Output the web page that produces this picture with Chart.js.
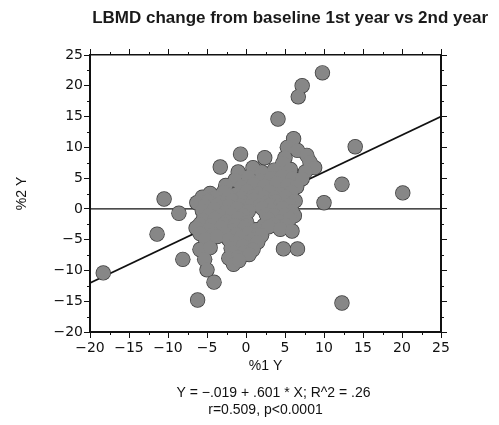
<!DOCTYPE html>
<html>
<head>
<meta charset="utf-8">
<title>LBMD change from baseline 1st year vs 2nd year</title>
<script src="https://cdn.jsdelivr.net/npm/chart.js@4.4.1/dist/chart.umd.min.js"></script>
<style>
  html, body { margin: 0; padding: 0; background: #fff; }
  canvas { display: block; }
</style>
</head>
<body>
<canvas id="lbmdChart" width="499" height="425"></canvas>
<script>
// % change in LBMD from baseline: 1st year (x) against 2nd year (y), one entry per subject
const firstYear = [
  9.8, 7.2, 6.7, 4.1, 14.0, -0.7, 2.4, -3.3, 12.3, 20.1, 10.0, 12.3,
  -10.5, -8.6, -11.4, -18.3, -6.2, -8.1,
  6.1, 5.3, 6.6, 5.0, 7.8, 8.2, 8.8, 4.7, 7.6, 0.9, 5.7, 3.6, 2.0, -1.0,
  -1.4, 0.3, 1.8, 3.2, 4.6, 6.0, 7.2,
  -2.6, -0.6, 1.0, 2.4, 3.9, 5.3, 6.5,
  -4.6, -2.9, -1.4, 0.1, 1.6, 3.0, 4.4, 5.8,
  -5.6, -3.9, -2.2, -0.6, 0.9, 2.3, 3.7, 5.1,
  -6.3, -4.9, -3.3, -1.8, -0.4, 1.0, 2.4, 3.8, 5.2, 6.3,
  -5.3, -3.7, -2.2, -0.7, 0.7, 1.8, 3.0, 4.3, 5.6,
  -5.6, -4.1, -2.6, -1.1, 0.3, 2.1, 3.4, 4.7, 5.9,
  -4.8, -3.3, -1.8, -0.4, 2.6, 3.6, 5.0, 6.2,
  -5.5, -4.0, -2.5, -1.0, 0.1, 2.9, 4.3, 5.6,
  -5.9, -4.4, -2.9, -1.4, 0.0, 2.3, 3.6, 5.1,
  -6.4, -4.8, -3.2, -1.7, -0.2, 1.3, 2.9, 4.4, 5.9,
  -5.9, -4.2, -2.7, -1.2, 0.3, 1.6,
  -5.2, -3.7, -2.2, -0.7, 0.8, 2.0,
  -1.3, 0.1, 1.5,
  -5.9, -4.6, -5.3, -5.0, -4.1,
  -1.9, -0.4, 0.9, -1.6, -0.2, -2.2, -1.0, 0.4, -1.6, -0.9,
  4.8, 6.6
];
const secondYear = [
  22.1, 20.0, 18.2, 14.6, 10.1, 8.9, 8.3, 6.8, 4.0, 2.6, 1.0, -15.3,
  1.6, -0.7, -4.1, -10.4, -14.8, -8.2,
  11.4, 10.0, 9.5, 8.3, 8.7, 7.6, 6.7, 7.4, 6.0, 6.7, 6.4, 6.3, 6.0, 6.0,
  4.7, 5.2, 4.6, 5.0, 5.3, 5.0, 4.9,
  3.8, 3.6, 4.0, 3.7, 4.2, 3.9, 3.6,
  2.5, 2.7, 2.3, 2.9, 2.5, 2.8, 2.4, 2.7,
  1.9, 1.9, 2.0, 1.8, 2.0, 1.9, 1.8, 2.0,
  1.0, 1.3, 1.0, 1.4, 1.1, 1.5, 1.0, 1.3, 1.0, 1.3,
  0.5, 0.6, 0.5, 0.6, 0.5, 0.6, 0.6, 0.5, 0.6,
  -0.3, 0.0, -0.5, 0.1, -0.4, 0.1, -0.3, 0.1, -0.4,
  -1.0, -1.1, -0.9, -1.0, -0.9, -1.0, -1.0, -1.1,
  -1.8, -1.6, -2.0, -1.5, -2.2, -1.7, -2.0, -1.6,
  -2.5, -2.6, -2.5, -2.6, -2.7, -2.7, -2.5, -2.6,
  -3.1, -3.4, -3.0, -3.5, -3.0, -3.4, -2.9, -3.3, -3.6,
  -4.0, -4.1, -4.0, -4.1, -4.0, -4.1,
  -4.9, -4.5, -5.0, -4.7, -5.0, -4.3,
  -5.6, -5.5, -5.4,
  -6.6, -6.3, -8.2, -9.9, -11.9,
  -6.4, -6.0, -6.6, -7.1, -7.0, -8.0, -7.8, -7.4, -9.0, -8.4,
  -6.5, -6.5
];

const axisRange = [-20, 25];
const majorStep = 5;
const minorStep = 2.5;

// regression Y = a + b * X
const fitIntercept = -0.019;
const fitSlope = 0.601;
const rSquared = 0.26;
const pearsonR = 0.509;
const pValueText = 'p<0.0001';

const textFont = '"Liberation Sans", Arial, sans-serif';
const tickFont = { family: '"DejaVu Sans", sans-serif', size: 14 };

const points = firstYear.map((x, i) => ({ x: x, y: secondYear[i] }));
const fitLine = axisRange.map(x => ({ x: x, y: fitIntercept + fitSlope * x }));
const zeroLine = axisRange.map(x => ({ x: x, y: 0 }));

const shortNum = v => (v < 0 ? '\u2212' : '') + Math.abs(v).toFixed(3).replace(/^0/, '');
const statLines = [
  'Y = ' + shortNum(fitIntercept) + ' + ' + shortNum(fitSlope) + ' * X; R^2 = ' +
    rSquared.toFixed(2).replace(/^0/, ''),
  'r=' + pearsonR.toFixed(3) + ', ' + pValueText
];

const tickLabel = v => (v < 0 ? '\u2212' + Math.abs(v) : String(v));

// frame scale shared by all four sides (major ticks only, minor ones come from the plugin)
function frameScale(position, extra) {
  return Object.assign({
    type: 'linear',
    position: position,
    min: axisRange[0],
    max: axisRange[1],
    ticks: { stepSize: majorStep, autoSkip: false, maxRotation: 0, display: false },
    grid: { drawOnChartArea: false, drawTicks: true, tickLength: 6, tickColor: '#111', tickWidth: 1 },
    border: { display: true, color: '#111', width: 2 }
  }, extra);
}

// short ticks halfway between the major ones, pointing outward on every side
const minorTicks = {
  id: 'minorTicks',
  afterDraw(chart) {
    const { ctx, chartArea, scales } = chart;
    const len = 3;
    ctx.save();
    ctx.strokeStyle = '#111';
    ctx.lineWidth = 1;
    ctx.beginPath();
    for (let v = axisRange[0] + minorStep; v < axisRange[1]; v += majorStep) {
      const px = Math.round(scales.x.getPixelForValue(v)) + 0.5;
      const py = Math.round(scales.y.getPixelForValue(v)) + 0.5;
      ctx.moveTo(px, chartArea.bottom); ctx.lineTo(px, chartArea.bottom + len);
      ctx.moveTo(px, chartArea.top); ctx.lineTo(px, chartArea.top - len);
      ctx.moveTo(chartArea.left, py); ctx.lineTo(chartArea.left - len, py);
      ctx.moveTo(chartArea.right, py); ctx.lineTo(chartArea.right + len, py);
    }
    ctx.stroke();
    ctx.restore();
  }
};

// regression text under the x axis title
const statsText = {
  id: 'statsText',
  afterDraw(chart) {
    const { ctx, chartArea } = chart;
    const cx = (chartArea.left + chartArea.right) / 2;
    ctx.save();
    ctx.fillStyle = '#111';
    ctx.font = '14px ' + textFont;
    ctx.textAlign = 'center';
    ctx.textBaseline = 'middle';
    ctx.fillText(statLines[0], cx + 8, 393);
    ctx.fillText(statLines[1], cx, 410);
    ctx.restore();
  }
};

new Chart(document.getElementById('lbmdChart'), {
  data: {
    datasets: [
      // gray discs on top, a slightly larger dark disc underneath gives the outline
      {
        type: 'scatter', data: points, order: 0,
        pointRadius: 7.0, pointBackgroundColor: '#878787', pointBorderWidth: 0
      },
      {
        type: 'scatter', data: points, order: 1,
        pointRadius: 7.7, pointBackgroundColor: '#3a3a3a', pointBorderWidth: 0
      },
      {
        type: 'line', data: fitLine, order: 2,
        borderColor: '#111', borderWidth: 1.6, pointRadius: 0
      },
      {
        type: 'line', data: zeroLine, order: 3,
        borderColor: '#111', borderWidth: 1.2, pointRadius: 0
      }
    ]
  },
  options: {
    responsive: false,
    animation: false,
    events: [],
    layout: { padding: { left: 0, right: 11, top: 0, bottom: 0 } },
    plugins: {
      legend: { display: false },
      tooltip: { enabled: false },
      title: {
        display: true,
        text: 'LBMD change from baseline 1st year vs 2nd year',
        align: 'end',
        color: '#1a1a1a',
        font: { family: textFont, size: 17, weight: 'bold' },
        padding: { top: 8, bottom: 16.6 }
      }
    },
    scales: {
      x: frameScale('bottom', {
        ticks: { stepSize: majorStep, autoSkip: false, maxRotation: 0, display: true,
                 color: '#111', font: tickFont, padding: 2, callback: tickLabel },
        title: { display: true, text: '%1 Y', color: '#111',
                 font: { family: textFont, size: 14 }, padding: { top: 0, bottom: 50.6 } },
        afterFit: s => { s.height = 93; }
      }),
      y: frameScale('left', {
        ticks: { stepSize: majorStep, autoSkip: false, display: true,
                 color: '#111', font: tickFont, padding: 1, callback: tickLabel },
        title: { display: true, text: '%2 Y', color: '#111',
                 font: { family: textFont, size: 14 }, padding: { top: 13.6, bottom: 0 } },
        afterFit: s => { s.width = 90; }
      }),
      x2: frameScale('top', { border: { display: true, color: '#111', width: 1.5 },
                              afterFit: s => { s.height = 10; } }),
      y2: frameScale('right', { afterFit: s => { s.width = 47; } })
    }
  },
  plugins: [minorTicks, statsText]
});
</script>
</body>
</html>
